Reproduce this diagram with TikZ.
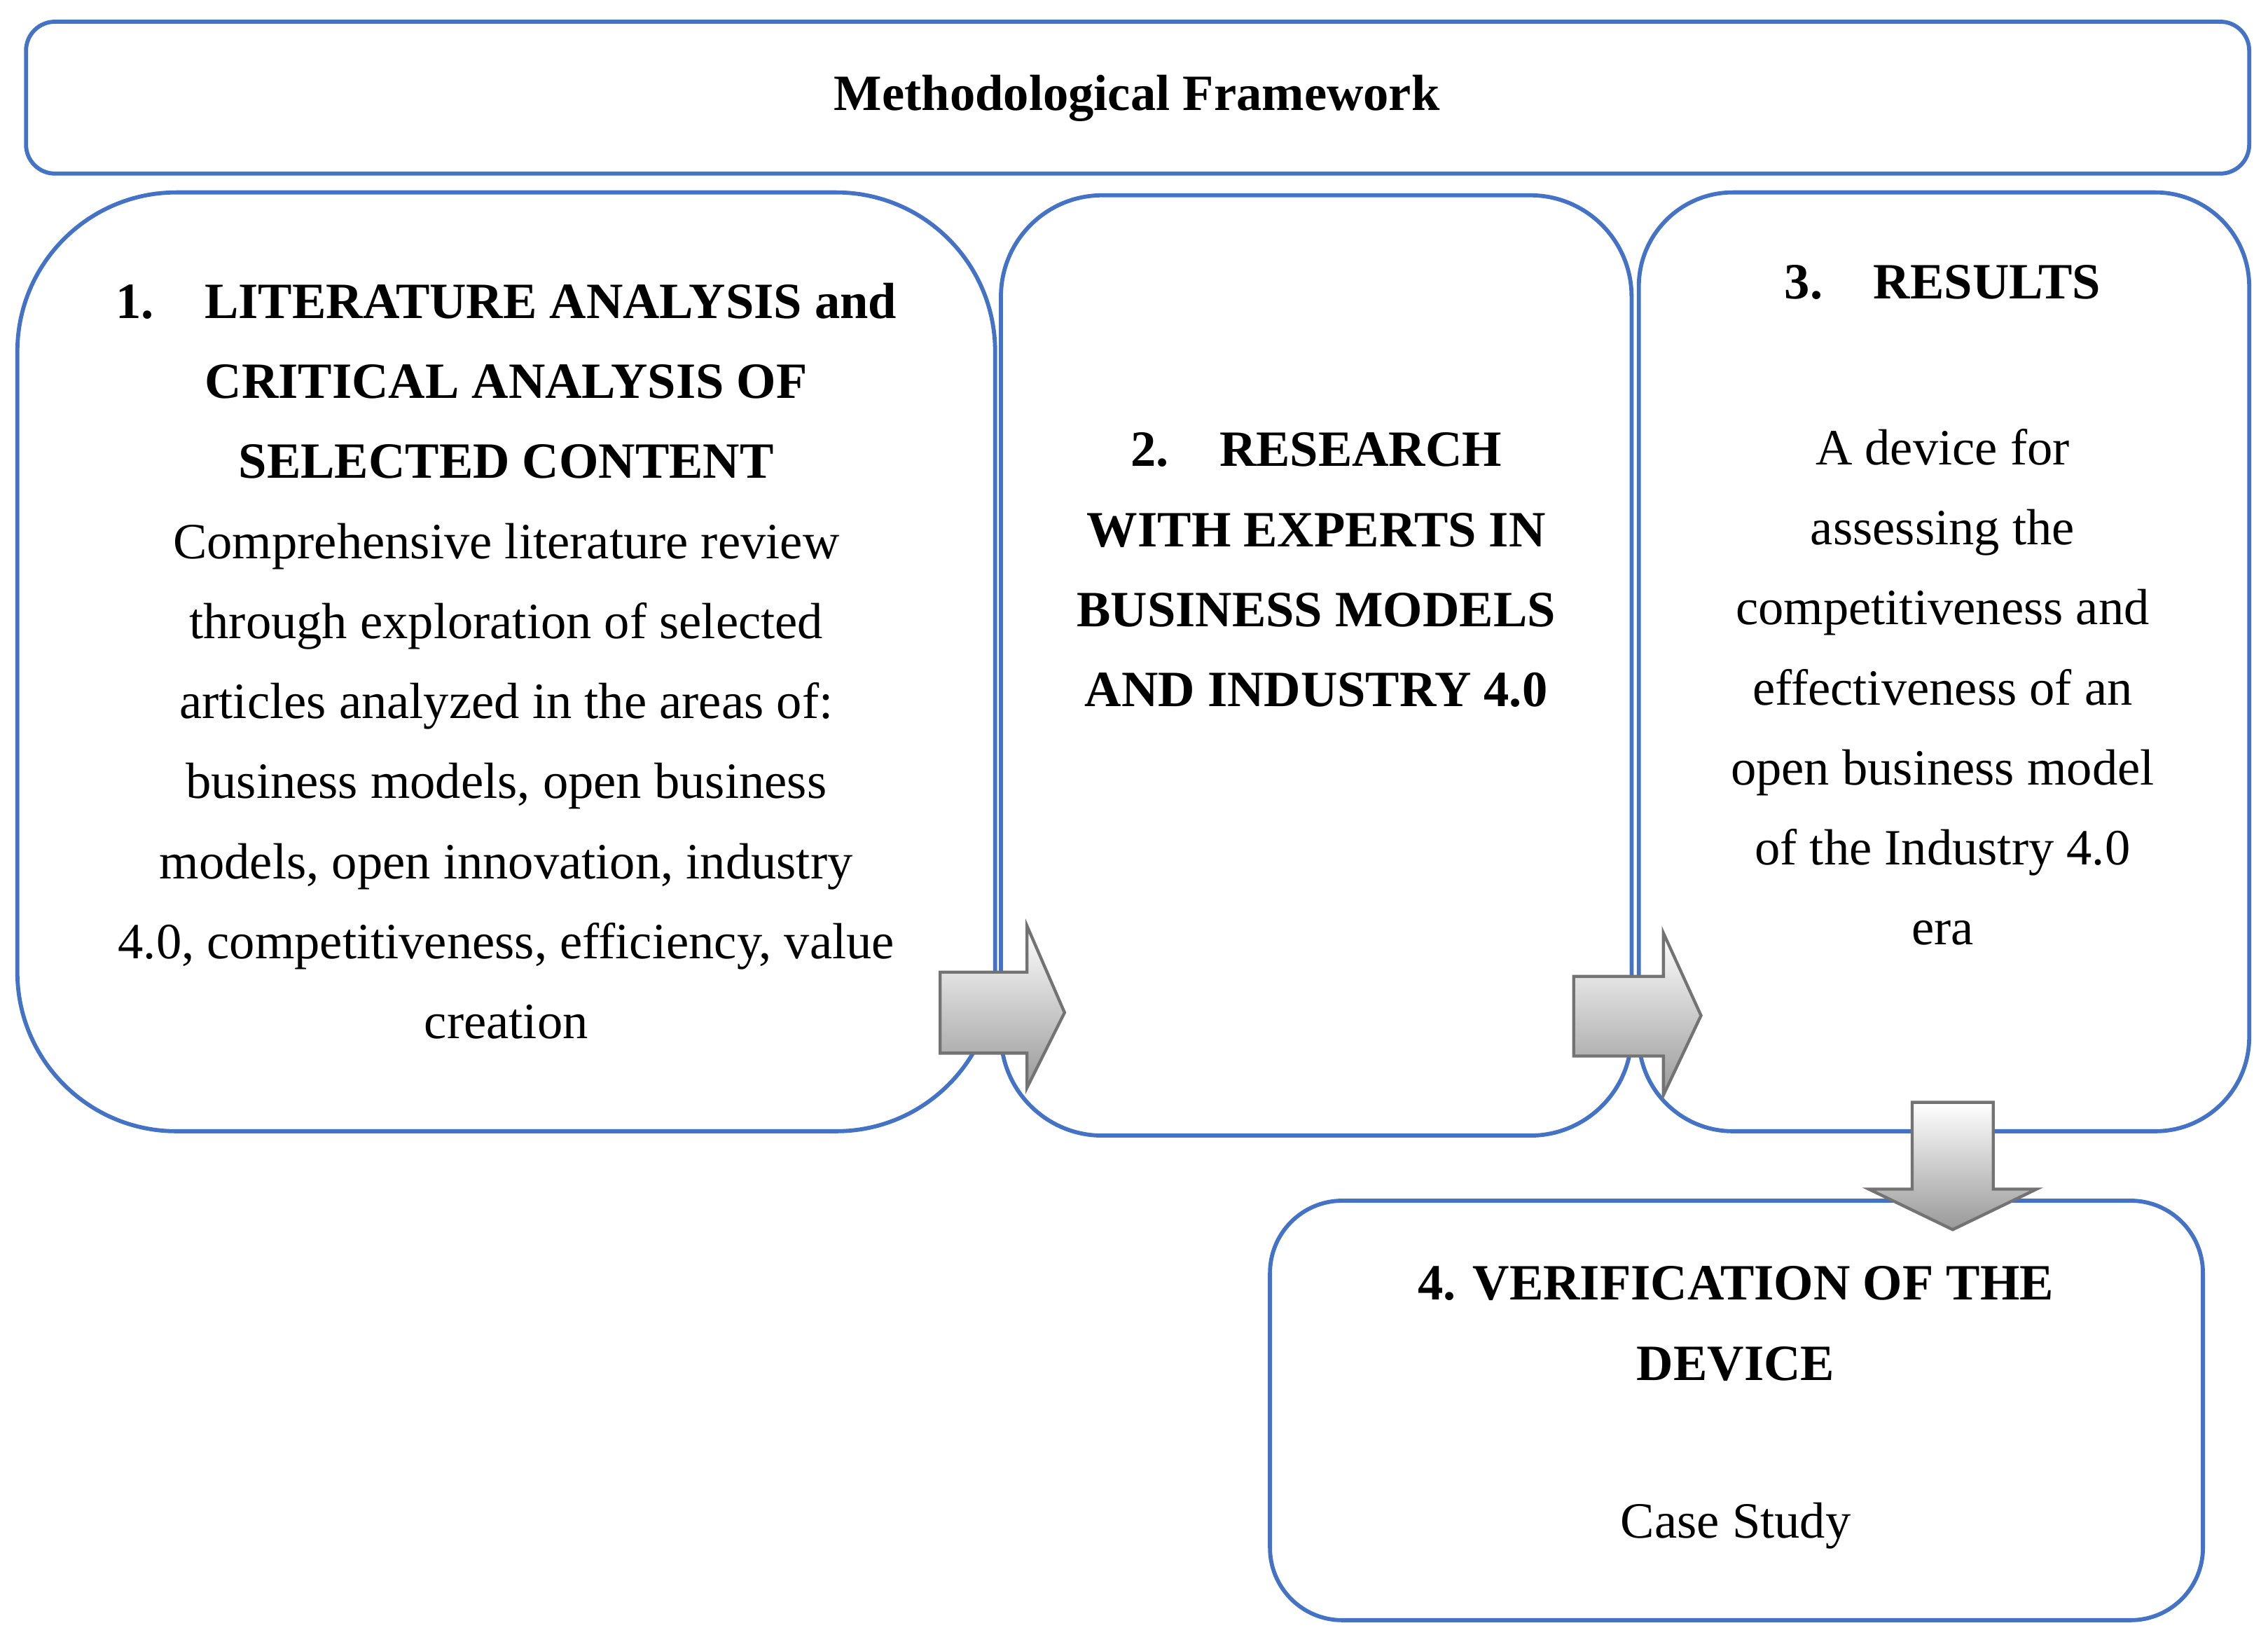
\documentclass[tikz,border=0pt]{standalone}
\usepackage{fontspec}
\setmainfont{Liberation Serif}
\begin{document}
\begin{tikzpicture}[x=0.02cm,y=-0.02cm,
  box/.style={draw=frame,line width=1.6pt,fill=white},
  txt/.style={align=center,font=\fontsize{20}{31.5}\selectfont},
  hd/.style={align=center,font=\fontsize{20}{31.5}\selectfont\bfseries},
  arr/.style={top color=white,bottom color=black!40,draw=black!55,line width=1.2pt}]
\definecolor{frame}{RGB}{68,114,196}
\useasboundingbox (0,0) rectangle (1568,1135);
\draw[box,rounded corners=0.4cm] (18,15) rectangle (1555,120);
\node[hd] (title) at (786,68) {Methodological Framework};
\draw[box,rounded corners=2.2cm] (12,133) rectangle (688,782);
\draw[box,rounded corners=1.4cm] (692,135) rectangle (1128,785);
\draw[box,rounded corners=1.3cm] (1133,133) rectangle (1555,782);
\draw[box,rounded corners=1cm] (878,830) rectangle (1523,1120);
\node[txt] (t1) at (350,457) {\textbf{1.\quad LITERATURE ANALYSIS and}\\\textbf{CRITICAL ANALYSIS OF}\\\textbf{SELECTED CONTENT}\\Comprehensive literature review\\through exploration of selected\\articles analyzed in the areas of:\\business models, open business\\models, open innovation, industry\\4.0, competitiveness, efficiency, value\\creation};
\node[hd] (t2) at (910,394) {2.\quad RESEARCH\\WITH EXPERTS IN\\BUSINESS MODELS\\AND INDUSTRY 4.0};
\node[hd] (t3h) at (1343,195) {3.\quad RESULTS};
\node[txt] (t3) at (1343,475) {A device for\\assessing the\\competitiveness and\\effectiveness of an\\open business model\\of the Industry 4.0\\era};
\node[hd] (t4) at (1200,915) {4. VERIFICATION OF THE\\DEVICE};
\node[txt] (t4b) at (1200,1055) {Case Study};
\shade[arr] (650,672) -- (710,672) -- (710,640) -- (736,700) -- (710,752) -- (710,728) -- (650,728) -- cycle;
\shade[arr] (1088,675) -- (1150,675) -- (1150,645) -- (1176,702) -- (1150,757) -- (1150,730) -- (1088,730) -- cycle;
\shade[arr] (1322,762) -- (1378,762) -- (1378,822) -- (1408,822) -- (1350,850) -- (1292,822) -- (1322,822) -- cycle;
\end{tikzpicture}
\end{document}
